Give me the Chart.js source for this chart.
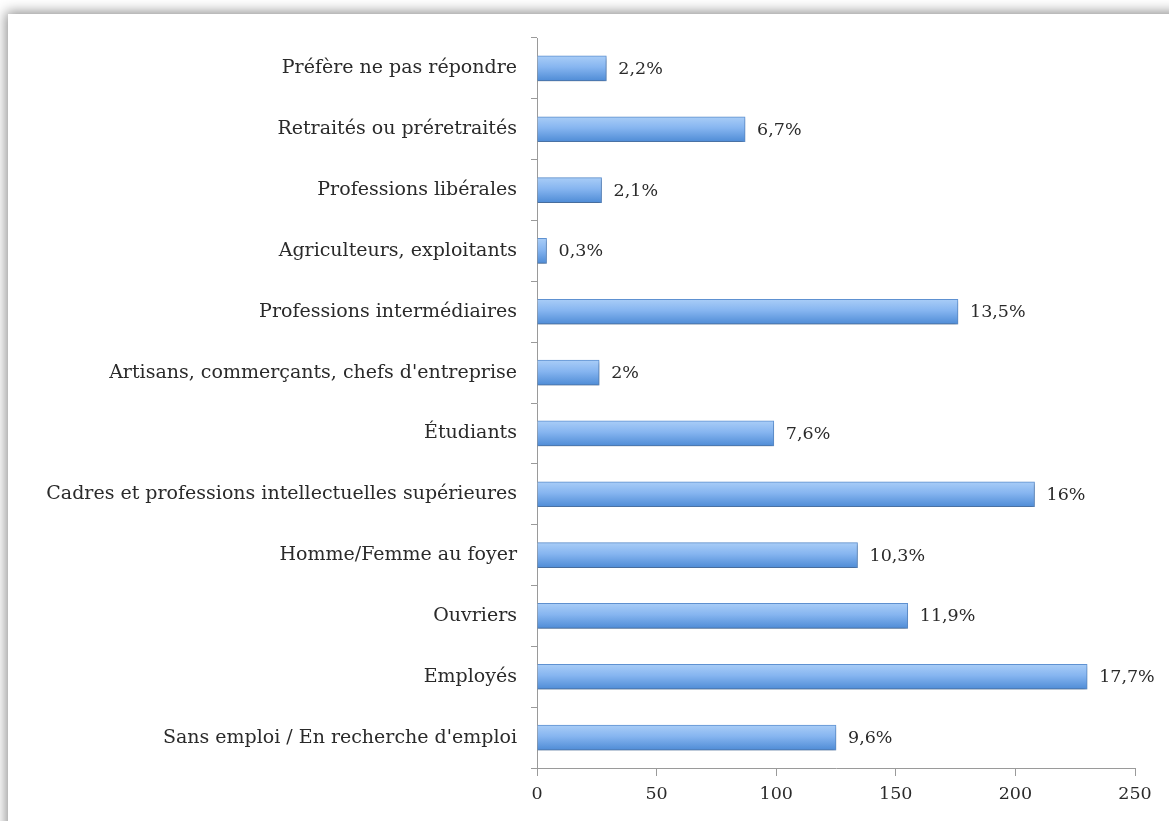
<!DOCTYPE html>
<html>
<head>
<meta charset="utf-8">
<script src="https://cdn.jsdelivr.net/npm/chart.js"></script>
<style>
  html, body { margin: 0; padding: 0; background: #fff; width: 1169px; height: 821px; overflow: hidden; }
  #panel { position: absolute; left: 8px; top: 14px; width: 1300px; height: 900px; background: #fff;
           box-shadow: 0 0 12px 2px rgba(0,0,0,0.45); }
  #wrap { position: absolute; left: 0; top: 0; width: 1169px; height: 821px; }
</style>
</head>
<body>
<div id="panel"></div>
<div id="wrap"><canvas id="chart"></canvas></div>
<script>
// categories, listed top to bottom
const categories = [
  'Préfère ne pas répondre',
  'Retraités ou préretraités',
  'Professions libérales',
  'Agriculteurs, exploitants',
  'Professions intermédiaires',
  "Artisans, commerçants, chefs d'entreprise",
  'Étudiants',
  'Cadres et professions intellectuelles supérieures',
  'Homme/Femme au foyer',
  'Ouvriers',
  'Employés',
  "Sans emploi / En recherche d'emploi"
];
const counts = [29, 87, 27, 4, 176, 26, 99, 208, 134, 155, 230, 125];
const percentLabels = ['2,2%', '6,7%', '2,1%', '0,3%', '13,5%', '2%', '7,6%', '16%', '10,3%', '11,9%', '17,7%', '9,6%'];
const xTicks = [0, 50, 100, 150, 200, 250];

const FONT = 'DejaVu Serif';
const BAR_H = 25;

// gradient per bar, built from the y scale position
const barFill = c => {
  const chart = c.chart, y = chart.scales.y;
  if (!chart.chartArea || !y) return '#76a9ea';
  const py = y.getPixelForValue(c.dataIndex);
  const g = chart.ctx.createLinearGradient(0, py - BAR_H / 2, 0, py + BAR_H / 2);
  g.addColorStop(0, '#a9cdf7');
  g.addColorStop(0.45, '#86b5f0');
  g.addColorStop(1, '#4f8cd6');
  return g;
};

const barShadow = {
  id: 'barShadow',
  beforeDatasetDraw(chart) {
    const ctx = chart.ctx;
    ctx.save();
    ctx.shadowColor = 'rgba(0,0,0,0.3)';
    ctx.shadowBlur = 3;
    ctx.shadowOffsetY = 2;
  },
  afterDatasetDraw(chart) { chart.ctx.restore(); }
};

const valueLabels = {
  id: 'valueLabels',
  afterDatasetsDraw(chart) {
    const ctx = chart.ctx;
    ctx.save();
    ctx.font = `17.5px "${FONT}"`;
    ctx.fillStyle = '#2a2a2a';
    ctx.textBaseline = 'middle';
    ctx.textAlign = 'left';
    chart.getDatasetMeta(0).data.forEach((bar, i) => {
      ctx.fillText(percentLabels[i], bar.x + 12, bar.y + 1);
    });
    ctx.restore();
  }
};

new Chart(document.getElementById('chart'), {
  type: 'bar',
  data: {
    labels: categories,
    datasets: [{
      data: counts,
      backgroundColor: barFill,
      borderColor: '#5f92d2',
      borderWidth: 1,
      borderSkipped: 'left',
      barThickness: BAR_H
    }]
  },
  options: {
    indexAxis: 'y',
    responsive: true,
    maintainAspectRatio: false,
    animation: false,
    layout: { padding: { top: 38, right: 34, left: 0, bottom: 8 } },
    plugins: { legend: { display: false }, tooltip: { enabled: false } },
    scales: {
      x: {
        min: 0, max: 250,
        afterBuildTicks: s => { s.ticks = xTicks.map(v => ({ value: v })); },
        grid: { drawOnChartArea: false, tickLength: 8, color: '#9a9a9a' },
        border: { color: '#9a9a9a' },
        ticks: { color: '#2a2a2a', padding: 8, font: { family: FONT, size: 17.5 } }
      },
      y: {
        afterFit: s => { s.width = 537; },
        grid: { drawOnChartArea: false, tickLength: 6, offset: true, color: '#9a9a9a' },
        border: { color: '#9a9a9a' },
        ticks: { color: '#2a2a2a', padding: 14, font: { family: FONT, size: 19 } }
      }
    }
  },
  plugins: [barShadow, valueLabels]
});
</script>
</body>
</html>
